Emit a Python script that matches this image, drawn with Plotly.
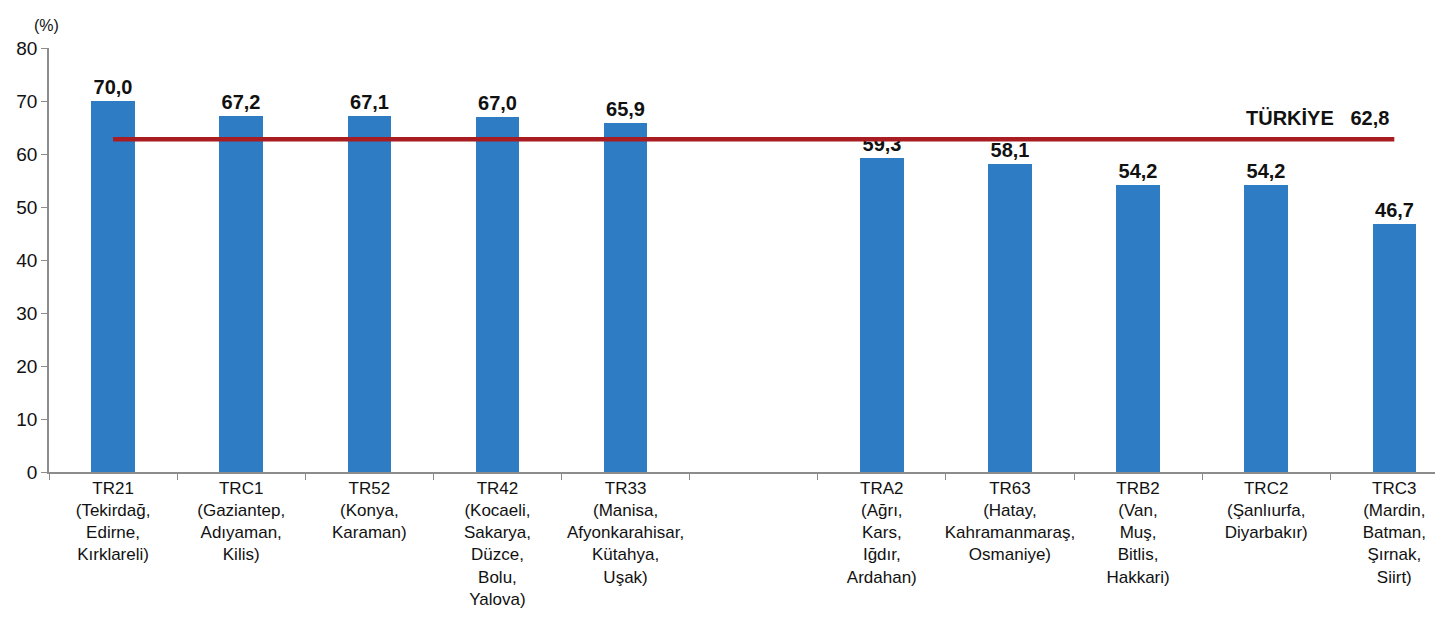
import plotly.graph_objects as go

categories = [
    "TR21<br>(Tekirdağ,<br>Edirne,<br>Kırklareli)",
    "TRC1<br>(Gaziantep,<br>Adıyaman,<br>Kilis)",
    "TR52<br>(Konya,<br>Karaman)",
    "TR42<br>(Kocaeli,<br>Sakarya,<br>Düzce,<br>Bolu,<br>Yalova)",
    "TR33<br>(Manisa,<br>Afyonkarahisar,<br>Kütahya,<br>Uşak)",
    " ",
    "TRA2<br>(Ağrı,<br>Kars,<br>Iğdır,<br>Ardahan)",
    "TR63<br>(Hatay,<br>Kahramanmaraş,<br>Osmaniye)",
    "TRB2<br>(Van,<br>Muş,<br>Bitlis,<br>Hakkari)",
    "TRC2<br>(Şanlıurfa,<br>Diyarbakır)",
    "TRC3<br>(Mardin,<br>Batman,<br>Şırnak,<br>Siirt)",
]
values = [70.0, 67.2, 67.1, 67.0, 65.9, None, 59.3, 58.1, 54.2, 54.2, 46.7]
turkiye_value = 62.8
turkiye_label = "TÜRKİYE"
y_ticks = [0, 10, 20, 30, 40, 50, 60, 70, 80]

FONT = "Liberation Sans, Arial, sans-serif"
BAR = "#2E7CC3"
RED = "#A81C22"

fig = go.Figure()
fig.add_trace(go.Bar(
    x=categories, y=values, width=0.34,
    marker=dict(color=BAR, line=dict(width=0)),
    texttemplate="%{y:.1f}", textposition="outside",
    textfont=dict(family=FONT, size=20, color="#111111", weight="bold"),
    cliponaxis=False, showlegend=False, hoverinfo="skip",
))
fig.add_trace(go.Scatter(
    x=[categories[0], categories[-1]], y=[turkiye_value, turkiye_value],
    mode="lines", line=dict(color=RED, width=4.5),
    showlegend=False, hoverinfo="skip",
))
fig.add_annotation(
    x=categories[-1], y=turkiye_value, xref="x", yref="y",
    text=f"{turkiye_label}\u00a0\u00a0\u00a0{turkiye_value:.1f}".replace(".", ","),
    showarrow=False, xanchor="right", yanchor="bottom", xshift=-3, yshift=8,
    font=dict(family=FONT, size=20, color="#111111", weight="bold"),
)
fig.add_annotation(
    x=-0.002, y=1.054, xref="paper", yref="paper", text="(%)", showarrow=False,
    xanchor="center", yanchor="middle",
    font=dict(family=FONT, size=16, color="#111111"),
)

fig.update_layout(
    width=1435, height=610,
    margin=dict(l=41, r=0, t=40, b=146, autoexpand=False),
    plot_bgcolor="white", paper_bgcolor="white",
    separators=",.",
    bargap=0,
    font=dict(family=FONT, color="#111111"),
    xaxis=dict(
        type="category", range=[-0.5, 10.38], automargin=False,
        showline=True, linecolor="#8c8c8c", linewidth=1.5,
        ticks="outside", tickson="boundaries", ticklen=6, tickcolor="#8c8c8c",
        tickfont=dict(family=FONT, size=17, color="#111111"),
        showgrid=False, zeroline=False, tickangle=0,
    ),
    yaxis=dict(
        range=[0, 80], tickvals=y_ticks, automargin=False,
        showline=True, linecolor="#8c8c8c", linewidth=1.5,
        ticks="outside", ticklen=6, tickcolor="#8c8c8c",
        tickfont=dict(family=FONT, size=19, color="#111111"),
        showgrid=False, zeroline=False,
    ),
)
fig.write_html("out.html")
